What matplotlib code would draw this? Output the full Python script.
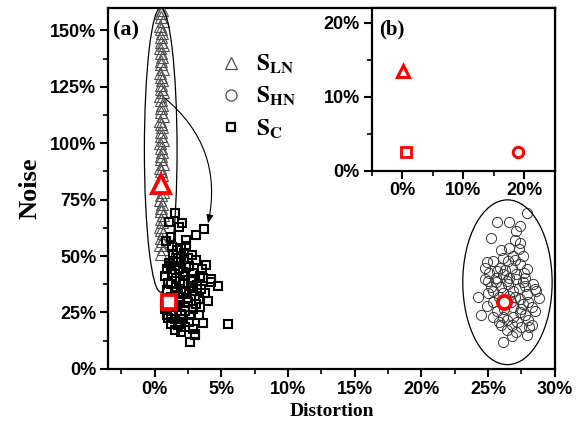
import matplotlib
matplotlib.use('Agg')
import matplotlib.pyplot as plt
from matplotlib.patches import Ellipse, FancyArrowPatch
from matplotlib.ticker import MultipleLocator, FuncFormatter
from matplotlib.lines import Line2D
from matplotlib.font_manager import FontProperties

plt.rcParams['mathtext.fontset'] = 'stix'

# ---------------- data (Distortion %, Noise %) ----------------
tri_pts = [(0.5,51),(0.6,53),(0.4,55),(0.55,56.5),(0.45,58),(0.6,60),(0.5,61.5),(0.4,63),
           (0.55,65),(0.5,66.5),(0.6,68),(0.45,70),(0.5,71.5),(0.55,73),(0.4,75),(0.5,77),
           (0.6,78.5),(0.5,80),(0.45,84),(0.55,86),(0.5,87.5),(0.4,89),(0.6,91),(0.5,93),
           (0.45,94.5),(0.55,96),(0.5,98),(0.4,100),(0.6,101.5),(0.5,103),(0.45,105),(0.55,107),
           (0.5,108.5),(0.4,110),(0.6,112),(0.5,114),(0.45,115.5),(0.55,117),(0.5,119),(0.4,121),
           (0.6,122.5),(0.5,124),(0.45,126),(0.55,128),(0.5,129.5),(0.4,131),(0.6,133),(0.5,135),
           (0.45,136.5),(0.55,138),(0.5,140),(0.4,142),(0.6,143.5),(0.5,145),(0.45,147),(0.55,149),
           (0.5,150.5),(0.4,152),(0.6,154),(0.5,156),(0.45,157.5),(0.55,159)]

sq_pts = [(1.5,69),(1.1,65),(1.8,62.9),(2.05,64.6),(3.07,59.5),(3.67,62),(1.25,58.3),(0.87,56.6),
          (2.33,57.3),(1.28,53.9),(2.33,54.4),(1.67,52.9),(2.0,53.6),(1.38,50.7),(2.2,51.2),(1.75,49.3),
          (2.5,49),(3.07,48.1),(1.07,47.1),(2.0,47.4),(3.87,46),(3.57,44.2),(1.5,45.6),(2.37,45.2),
          (0.93,44.2),(1.8,44.2),(2.87,42.7),(0.75,41.2),(1.62,40.5),(3.37,41.2),(4.25,39.8),(2.25,41.2),
          (1.9,39),(2.9,38.8),(3.6,40.5),(4.25,38.3),(4.75,36.8),(1.25,37.6),(2.12,37.9),(2.75,36.8),
          (3.5,35.4),(1.5,34.6),(2.37,33.9),(3.0,32.5),(4.0,30.3),(1.87,31.7),(1.82,29.5),(2.5,29.5),
          (3.12,28.8),(0.75,26.6),(1.5,27.3),(2.25,27.3),(2.87,26.6),(1.25,24.4),(2.0,24.4),(2.62,23.7),
          (1.5,22.2),(2.12,22.2),(3.62,20.3),(5.5,19.7),(1.25,20),(1.75,19.3),(2.87,17.9),(1.5,17.1),
          (2.0,16.4),(3.0,15.6),(2.62,12),(3.05,14.9),
          (1.0,38),(1.3,42.5),(2.6,45.5),(2.1,43),(1.2,32),(0.9,35),(2.7,40),(3.2,37),
          (1.6,36.5),(2.4,31.5),(1.1,30.5),(2.8,34.5),(3.3,31),(0.8,29),(1.4,25.8),(2.3,25.5),
          (1.7,28.5),(2.6,21),(1.0,22.5),(1.9,20.5),(2.3,18.5),(3.3,24),(1.2,45.8),(2.8,50.5),
          (3.4,27.5),(0.9,23.8),(2.0,34),(1.4,48),(2.2,48.5),(3.8,33.5)]

circ_pts = [(27.9,69.3),(25.7,65),(26.6,65),(27.4,63.2),(27.1,61),(25.2,57.8),(27,57.3),(27.4,55.8),
            (26.6,53.6),(27.3,53.2),(27.6,50),(26.1,49.3),(26.9,50),(26.5,47.8),(24.9,47.4),(25.4,47.8),
            (27.4,46.3),(24.75,44.9),(25.9,44.9),(26.8,44.9),(27.9,44.2),(25.1,42.7),(26.1,42),(27.1,42),
            (25.6,40.5),(26.6,40.5),(27.8,40.5),(24.75,39.8),(25,39),(24.25,31.7),(24.5,24.1),(26.1,12),
            (28.6,34.6),(28.1,18.6),(25.6,38.3),(26.4,39),(27.1,39.8),(27.8,36.8),(28.5,35.4),(25.4,34.6),
            (26.9,34.6),(25.4,29.5),(27.4,31),(28,29.5),(26.9,27.3),(27.5,26.6),(28.3,27.3),(25.4,22.9),
            (26.1,22.9),(26.9,22.9),(27.8,23.7),(26,19.3),(26.8,19.3),(27.5,18.6),(28.3,19.3),(26.4,17.1),
            (27.1,16.4),(27.9,15.2),
            (26.0,36.5),(26.6,32.5),(27.3,35.8),(25.8,31.8),(26.2,26.5),(27.6,28.8),(25.7,25.8),(27.2,21),
            (26.4,21.5),(28.0,21.8),(25.2,36.5),(26.3,44),(27.6,38.5),(26,52.5),(27.9,33),(28.8,31.5),
            (24.9,27.8),(26.7,29.8),(26.5,37.8),(27.0,48.3),(25.7,43.4),(27.4,25),(25.0,33.5),(26.1,33.8),
            (27.0,31.7),(28.5,25.5),(27.7,42.5),(25.8,20.9),(26.8,14.6),(28.4,37.5)]

# centroids (main) and inset values
red_main = {'tri': (0.5, 82), 'sq': (1.05, 29.5), 'circ': (26.2, 29.5)}
red_inset = {'tri': (0.1, 13.4), 'sq': (0.65, 2.5), 'circ': (19.0, 2.5)}

legend_labels = [r'$\mathbf{S}_{\mathbf{LN}}$', r'$\mathbf{S}_{\mathbf{HN}}$', r'$\mathbf{S}_{\mathbf{C}}$']
main_xticks = [0, 5, 10, 15, 20, 25, 30]
main_yticks = [0, 25, 50, 75, 100, 125, 150]
inset_ticks = [0, 10, 20]

# ---------------- figure ----------------
fig = plt.figure(figsize=(5.84, 4.33), dpi=100)
ax = fig.add_axes([0.185, 0.148, 0.765, 0.834])

pct = FuncFormatter(lambda v, p: f'{v:.0f}%')
tick_fp = FontProperties(family='Liberation Sans', weight='bold', size=13)

def style_axes(a, xmaj, xmin, ymaj, ymin, xt, yt):
    a.xaxis.set_minor_locator(MultipleLocator(xmin))
    a.yaxis.set_minor_locator(MultipleLocator(ymin))
    a.set_xticks(xt)
    a.set_yticks(yt)
    a.xaxis.set_major_formatter(pct)
    a.yaxis.set_major_formatter(pct)
    a.tick_params(which='major', direction='out', length=6, width=1.5, pad=2.5)
    a.tick_params(which='minor', direction='out', length=3.5, width=1.2)
    for s in a.spines.values():
        s.set_linewidth(1.6)
    for lab in a.get_xticklabels() + a.get_yticklabels():
        lab.set_fontproperties(tick_fp)

tx, ty = zip(*tri_pts)
sx, sy = zip(*sq_pts)
cx, cy = zip(*circ_pts)

ax.plot(tx, ty, ls='none', marker='^', ms=8.5, mfc='none', mec='#505050', mew=0.8, zorder=3)
ax.plot(cx, cy, ls='none', marker='o', ms=7.3, mfc='none', mec='#3a3a3a', mew=0.7, zorder=3)
ax.plot(sx, sy, ls='none', marker='s', ms=5.4, mfc='none', mec='black', mew=1.5, zorder=3)

ax.plot(*red_main['tri'], ls='none', marker='^', ms=13, mfc='white', mec='red', mew=2.7, zorder=5)
ax.plot(*red_main['sq'], ls='none', marker='s', ms=9.5, mfc='white', mec='red', mew=2.7, zorder=5)
ax.plot(*red_main['circ'], ls='none', marker='o', ms=9.5, mfc='white', mec='red', mew=2.7, zorder=5)

ax.add_patch(Ellipse((0.45, 97), 2.45, 126, fill=False, ec='black', lw=0.9, zorder=4))
ax.add_patch(Ellipse((26.45, 38.4), 6.7, 73, fill=False, ec='black', lw=0.9, zorder=4))

arrow = FancyArrowPatch((0.75, 120), (4.0, 64.5), connectionstyle='arc3,rad=-0.3',
                        arrowstyle='-|>,head_length=5,head_width=2', lw=0.8, color='black',
                        shrinkA=0, shrinkB=0, zorder=4)
ax.add_patch(arrow)

ax.set_xlim(-3.5, 30)
ax.set_ylim(0, 160)
style_axes(ax, 5, 2.5, 25, 12.5, main_xticks, main_yticks)

ax.set_xlabel('Distortion', family='Liberation Serif', weight='bold', size=14, labelpad=4)
ax.set_ylabel('Noise', family='Liberation Serif', weight='bold', size=19, labelpad=6)
ax.text(0.012, 0.965, '(a)', transform=ax.transAxes, ha='left', va='top',
        family='Liberation Serif', weight='bold', size=16)

handles = [Line2D([], [], ls='none', marker='^', ms=8.5, mfc='none', mec='#505050', mew=0.9),
           Line2D([], [], ls='none', marker='o', ms=8, mfc='none', mec='#505050', mew=0.9),
           Line2D([], [], ls='none', marker='s', ms=5.5, mfc='none', mec='black', mew=1.6)]
ax.legend(handles, legend_labels, loc='upper left', bbox_to_anchor=(0.218, 0.91),
          frameon=False, prop={'size': 17}, handlelength=1.2, handletextpad=0.45,
          labelspacing=0.33, borderpad=0)

# ---------------- inset ----------------
ins = fig.add_axes([0.6365, 0.606, 0.3135, 0.376])
ins.set_facecolor('white')
ins.plot(*red_inset['tri'], ls='none', marker='^', ms=9, mfc='white', mec='red', mew=2.2)
ins.plot(*red_inset['sq'], ls='none', marker='s', ms=6.5, mfc='white', mec='red', mew=2.0)
ins.plot(*red_inset['circ'], ls='none', marker='o', ms=7.5, mfc='white', mec='red', mew=2.2)
ins.set_xlim(-5, 25)
ins.set_ylim(0, 22)
style_axes(ins, 10, 5, 10, 5, inset_ticks, inset_ticks)
ins.text(0.04, 0.93, '(b)', transform=ins.transAxes, ha='left', va='top',
         family='Liberation Serif', weight='bold', size=15)

fig.savefig('out.png', dpi=100)
